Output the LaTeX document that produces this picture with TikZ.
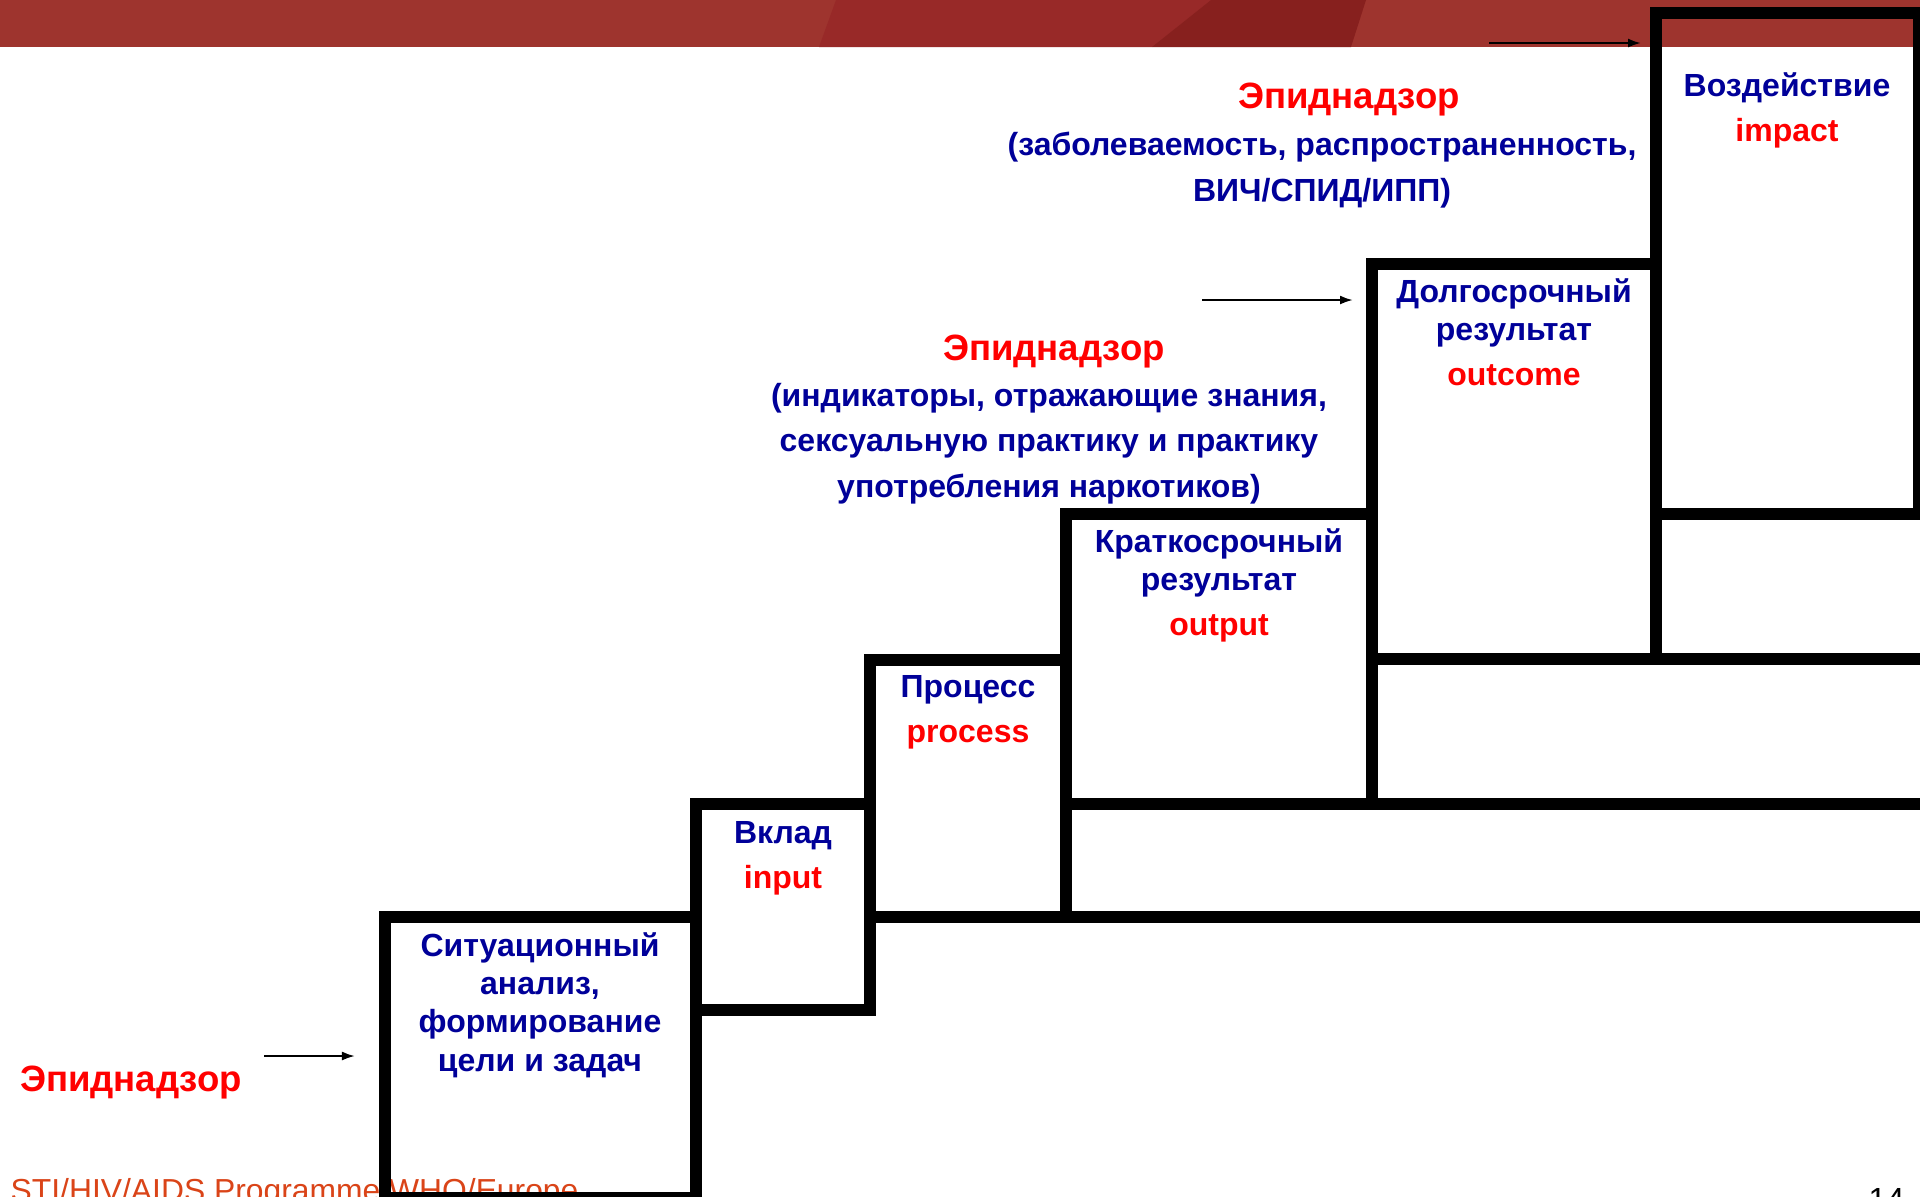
\documentclass[tikz,border=0pt]{standalone}
\usepackage{fontspec}
\setmainfont{Liberation Sans}
\usepackage{xcolor}
\usetikzlibrary{positioning,arrows.meta}
\definecolor{mynavy}{RGB}{0,0,153}
\definecolor{myred}{RGB}{255,0,0}
\definecolor{mybar}{RGB}{158,52,46}
\definecolor{mybarmid}{RGB}{152,41,40}
\definecolor{mybardark}{RGB}{135,32,30}
\definecolor{myfoot}{RGB}{218,68,24}

\begin{document}
\begin{tikzpicture}[x=0.01cm,y=-0.01cm,
          stepline/.style={line width=3.6pt,draw=black},
          steptext/.style={anchor=base,align=center,inner sep=0pt,text=mynavy,
            font=\fontsize{9.1}{10.9}\selectfont\bfseries},
          survtitle/.style={anchor=base,inner sep=0pt,text=myred,
            font=\fontsize{10.4}{12}\selectfont\bfseries},
          survtext/.style={anchor=base,align=center,inner sep=0pt,text=mynavy,
            font=\fontsize{9.1}{12.9}\selectfont\bfseries},
          arr/.style={line width=0.6pt,-{Latex[length=0.13cm,width=0.09cm]}}
          ]
          \useasboundingbox (0,0) rectangle (1920,1196);
          \clip (0,0) rectangle (1920,1196);
          \fill[white] (0,0) rectangle (1920,1196);
          % the title bar
          \fill[mybar] (0,0) rectangle (1920,47);
          \fill[mybarmid] (836,0) -- (1211,0) -- (1152,47) -- (819,47) -- cycle;
          \fill[mybardark] (1211,0) -- (1366,0) -- (1351,47) -- (1152,47) -- cycle;
          % footer and page number
          \node[anchor=base west,inner sep=0pt,text=myfoot,font=\fontsize{9.05}{11}\selectfont] (foot) at (10,1201) {STI/HIV/AIDS Programme WHO/Europe};
          \node[anchor=base east,inner sep=0pt,font=\fontsize{9.1}{11}\selectfont] (page) at (1905,1210) {14};
          % the steps
          \foreach \l/\t/\r/\b in {385/917/696/1198, 696/804/870/1010, 870/660/1066/917,
                                   1066/514/1372/804, 1372/264/1656/659, 1656/13/1919/514}
            \draw[stepline] (\l,\t) rectangle (\r,\b);
          % the bottoms running out to the right
          \foreach \l/\y in {1066/917, 1372/804, 1656/659}
            \draw[stepline] (\l,\y) -- (1930,\y);
          % the step labels (placed by their last line)
          \node[steptext] (s1) at (540,1071) {Ситуационный\\анализ,\\формирование\\цели и задач};
          \node[steptext] (s2) at (783,888) {Вклад\\[1.7pt]{\color{myred}input}};
          \node[steptext] (s3) at (968,742) {Процесс\\[1.7pt]{\color{myred}process}};
          \node[steptext] (s4) at (1219,635) {Краткосрочный\\результат\\[1.7pt]{\color{myred}output}};
          \node[steptext] (s5) at (1514,385) {Долгосрочный\\результат\\[1.7pt]{\color{myred}outcome}};
          \node[steptext] (s6) at (1787,141) {Воздействие\\[1.7pt]{\color{myred}impact}};
          % the surveillance labels
          \node[survtitle] (e1) at (131,1091) {Эпиднадзор};
          \node[survtitle] (e2) at (1054,360) {Эпиднадзор};
          \node[survtext] (e2t) at (1049,497) {(индикаторы, отражающие знания,\\сексуальную практику и практику\\употребления наркотиков)};
          \node[survtitle] (e3) at (1349,108) {Эпиднадзор};
          \node[survtext] (e3t) at (1322,201) {(заболеваемость, распространенность,\\ВИЧ/СПИД/ИПП)};
          % the arrows
          \coordinate (a1s) at (264,1056);
          \coordinate (a1e) at (355,1056);
          \coordinate (a2s) at (1202,300);
          \coordinate (a2e) at (1353,300);
          \coordinate (a3s) at (1489,43);
          \coordinate (a3e) at (1641,43);
          \draw[arr] (a1s) -- (a1e);
          \draw[arr] (a2s) -- (a2e);
          \draw[arr] (a3s) -- (a3e);
        \end{tikzpicture}
\end{document}
